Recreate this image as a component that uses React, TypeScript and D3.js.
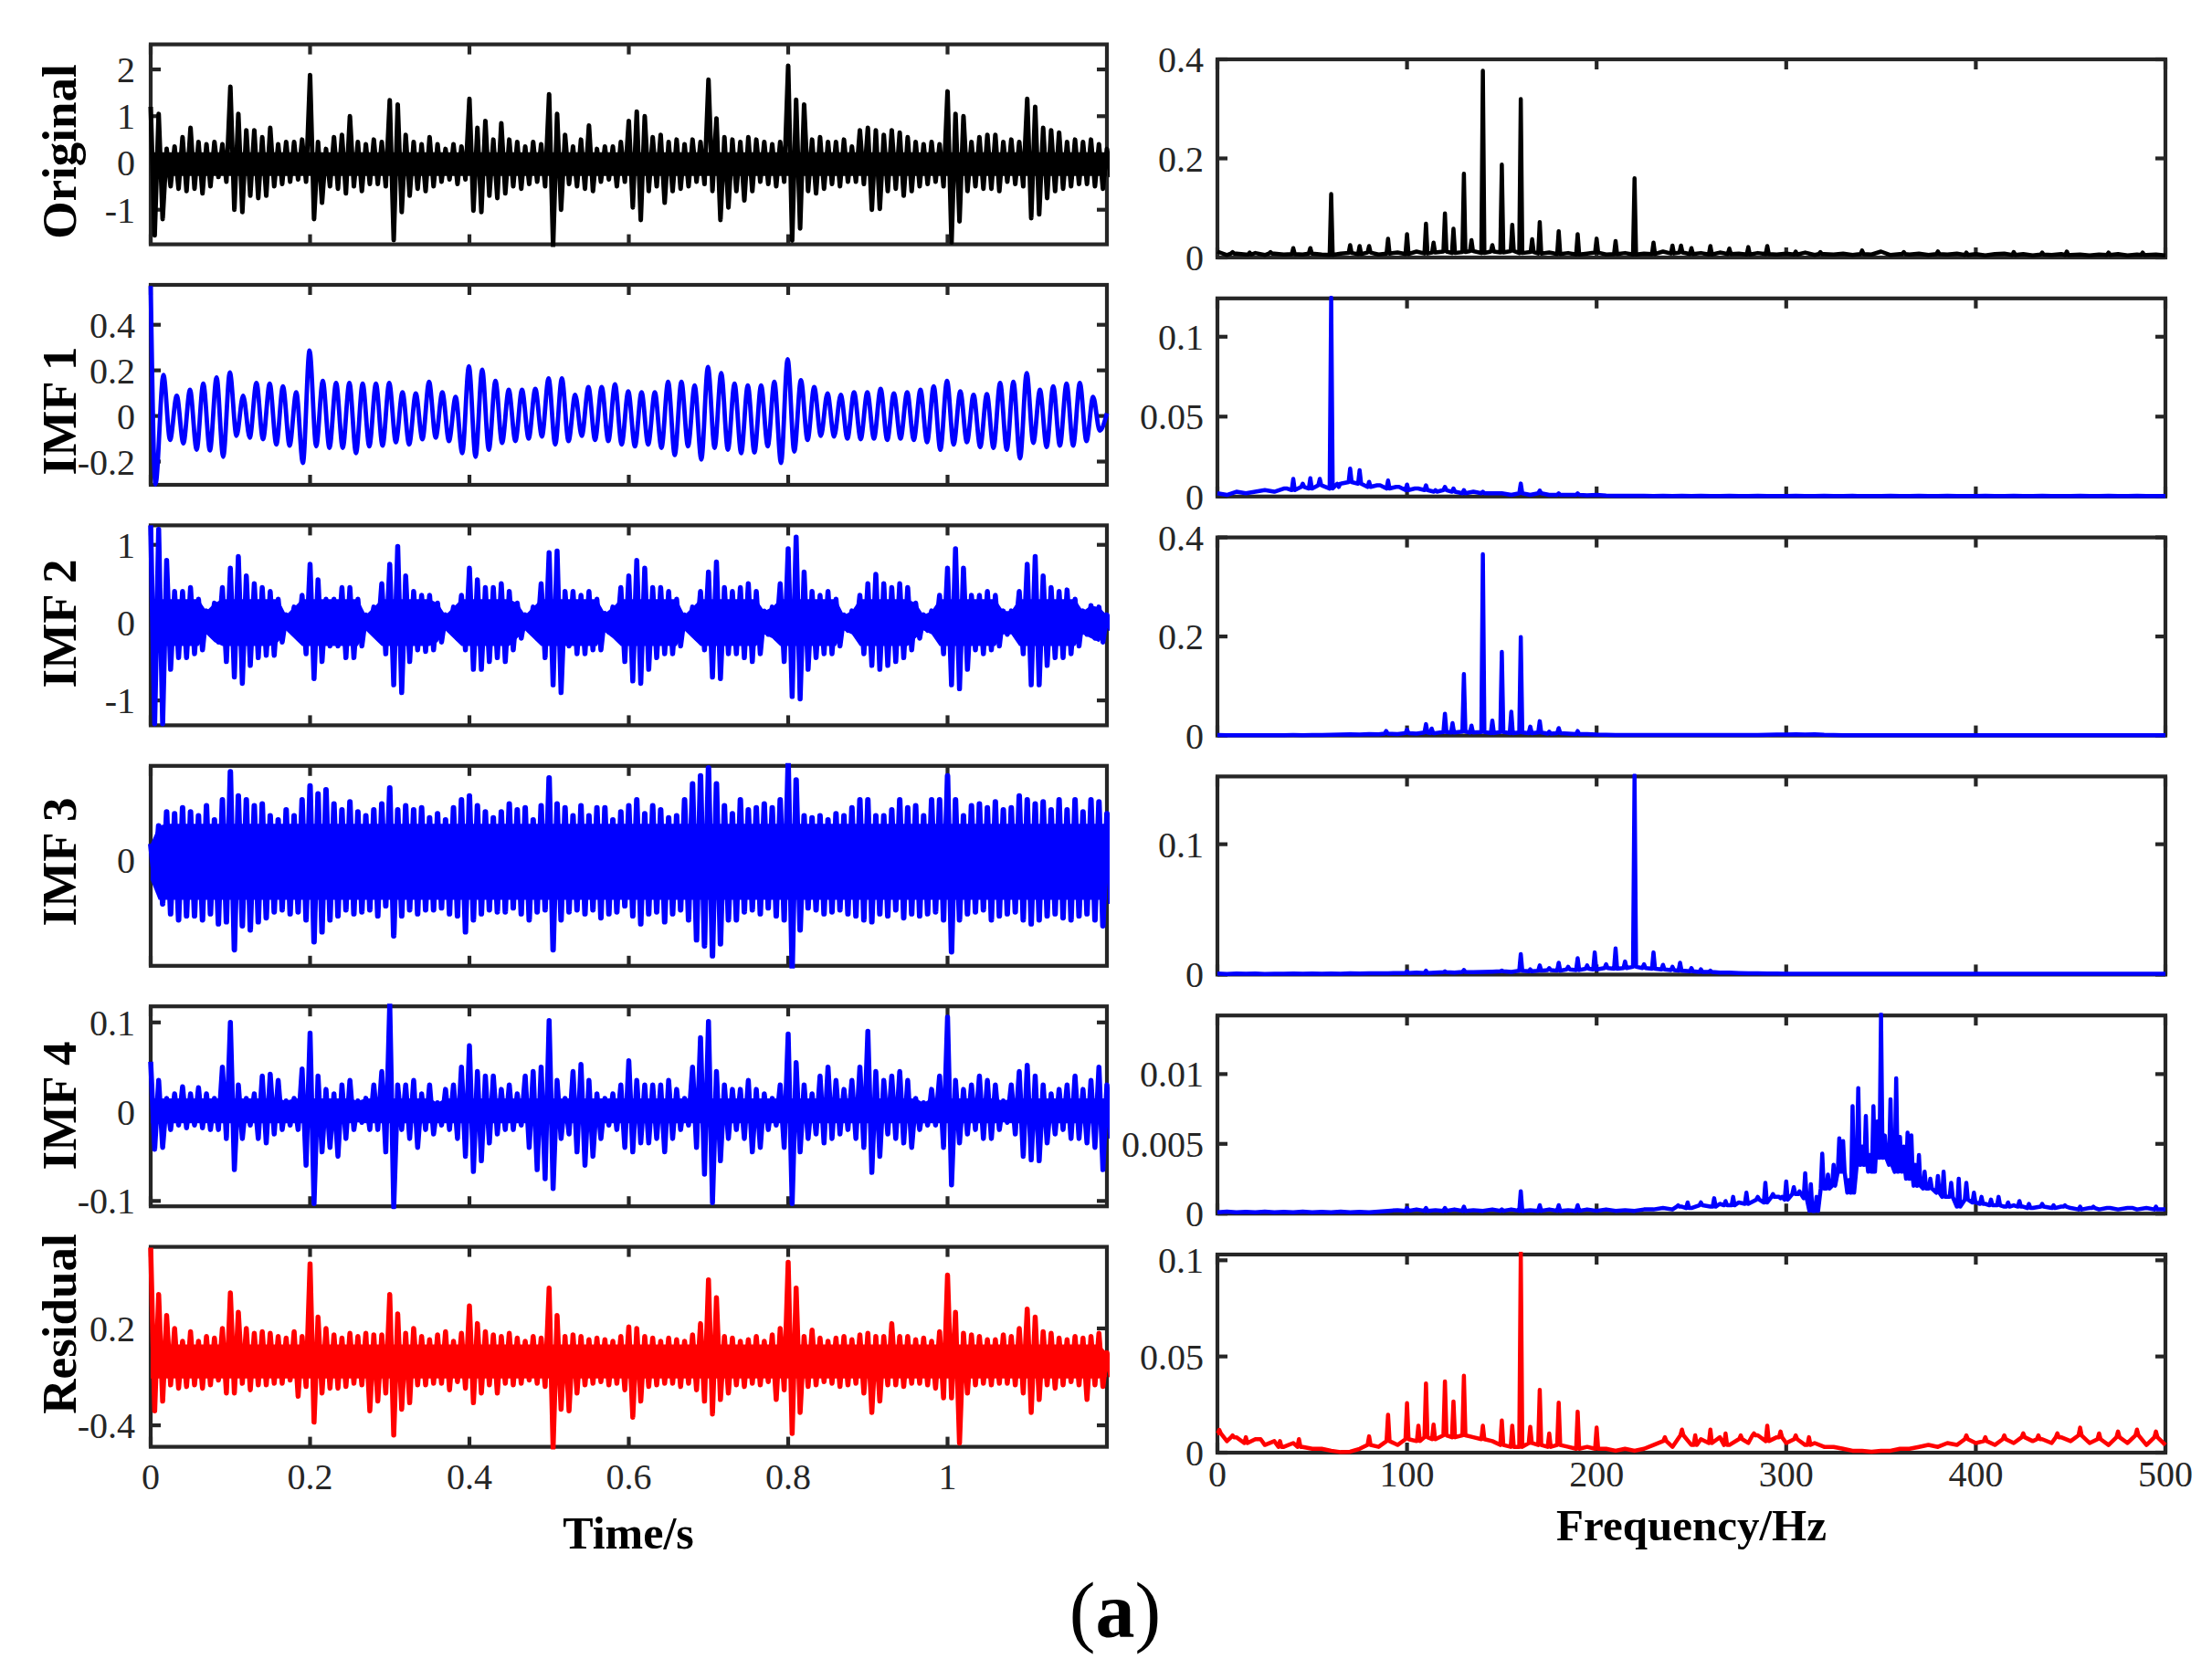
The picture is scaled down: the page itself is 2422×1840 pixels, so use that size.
import React, { useEffect, useRef } from "react";
import * as d3 from "d3";

// ---- data ----
const rowLabels = ["Original", "IMF 1", "IMF 2", "IMF 3", "IMF 4", "Residual"];
const timeTicks = [0, 0.2, 0.4, 0.6, 0.8, 1];
const freqTicks = [0, 100, 200, 300, 400, 500];
const timeDomain: [number, number] = [0, 1.2];
const freqDomain: [number, number] = [0, 500];
const timeYDomains: [number, number][] = [[-1.74, 2.536], [-0.302, 0.575], [-1.32, 1.25], [-0.53, 0.47], [-0.106, 0.118], [-0.533, 0.705]];
const timeYTicks = [[-1, 0, 1, 2], [-0.2, 0, 0.2, 0.4], [-1, 0, 1], [0], [-0.1, 0, 0.1], [-0.4, 0.2]];
const freqYDomains: [number, number][] = [[0, 0.4], [0, 0.124], [0, 0.4], [0, 0.152], [0, 0.0142], [0, 0.103]];
const freqYTicks = [[0, 0.2, 0.4], [0, 0.05, 0.1], [0, 0.2, 0.4], [0, 0.1], [0, 0.005, 0.01], [0, 0.05, 0.1]];
// solid inner band of each dense signal (bottom, top); IMF 1 has none
const coreBands: ([number, number] | null)[] = [[-0.28, 0.23], null, [-0.3, 0.3], [-0.2, 0.18], [-0.013, 0.015], [-0.11, 0.1]];

// time signals: upper / lower extremes every 0.01 s (0 .. 1.2 s)
const originalHi = [1.2,1.05,0.3,0.35,0.55,0.75,0.45,0.4,0.45,0.4,
  1.63,1.05,0.7,0.7,0.55,0.75,0.4,0.45,0.45,0.5,
  1.88,0.45,0.3,0.55,0.6,1.0,0.45,0.4,0.5,0.45,
  1.34,1.25,0.6,0.45,0.4,0.55,0.4,0.3,0.4,0.35,
  1.37,0.75,0.9,0.5,0.85,0.5,0.45,0.35,0.45,0.4,
  1.47,1.05,0.6,0.35,0.5,0.8,0.3,0.35,0.35,0.45,
  0.9,1.1,1.0,0.55,0.6,0.45,0.5,0.4,0.5,0.45,
  1.78,0.95,0.55,0.5,0.45,0.55,0.5,0.45,0.4,0.45,
  2.08,1.35,1.25,0.5,0.55,0.45,0.45,0.5,0.35,0.7,
  0.75,0.7,0.6,0.7,0.65,0.55,0.45,0.4,0.45,0.4,
  1.53,1.05,1.0,0.45,0.55,0.6,0.6,0.45,0.5,0.45,
  1.37,1.2,0.75,0.7,0.65,0.45,0.5,0.45,0.5,0.4,
  0.3];
const originalLo = [-1.55,-1.2,-0.5,-0.55,-0.6,-0.55,-0.65,-0.5,-0.3,-0.4,
  -1.0,-1.05,-0.7,-0.75,-0.7,-0.5,-0.45,-0.4,-0.35,-0.4,
  -1.2,-0.85,-0.5,-0.55,-0.65,-0.5,-0.6,-0.45,-0.45,-0.5,
  -1.65,-1.05,-0.7,-0.55,-0.6,-0.5,-0.4,-0.35,-0.45,-0.35,
  -1.02,-1.05,-0.7,-0.75,-0.65,-0.5,-0.55,-0.45,-0.4,-0.5,
  -1.78,-1.0,-0.45,-0.5,-0.55,-0.6,-0.4,-0.35,-0.5,-0.4,
  -0.95,-1.22,-0.6,-0.5,-0.85,-0.6,-0.55,-0.5,-0.4,-0.45,
  -0.6,-1.22,-0.95,-0.6,-0.8,-0.6,-0.4,-0.45,-0.5,-0.4,
  -1.66,-1.4,-0.6,-0.65,-0.55,-0.45,-0.5,-0.4,-0.4,-0.45,
  -1.0,-0.98,-0.6,-0.55,-0.7,-0.6,-0.5,-0.45,-0.4,-0.5,
  -1.7,-1.25,-0.6,-0.5,-0.55,-0.55,-0.6,-0.4,-0.45,-0.5,
  -1.18,-1.1,-0.75,-0.6,-0.55,-0.5,-0.45,-0.45,-0.5,-0.55,
  -0.3];

// IMF 1 is a clean ~60 Hz wave: start transient, then each crest / trough
const imf1Start = [0.57, -0.3];
const imf1Peaks = [0.18,0.089,0.115,0.142,0.169,0.191,0.089,0.145,0.142,0.13,
  0.104,0.287,0.154,0.145,0.145,0.142,0.142,0.145,0.104,0.099,
  0.15,0.104,0.084,0.218,0.203,0.154,0.115,0.115,0.119,0.165,
  0.165,0.093,0.127,0.127,0.139,0.108,0.104,0.104,0.15,0.15,
  0.134,0.215,0.188,0.142,0.134,0.134,0.15,0.249,0.157,0.127,
  0.099,0.093,0.104,0.104,0.119,0.099,0.104,0.115,0.13,0.154,
  0.108,0.093,0.096,0.145,0.15,0.188,0.115,0.13,0.142,0.145,
  0.084];
const imf1Troughs = [-0.105,-0.12,-0.148,-0.151,-0.179,-0.087,-0.095,-0.102,-0.125,-0.13,
  -0.206,-0.133,-0.14,-0.14,-0.163,-0.133,-0.13,-0.115,-0.125,-0.102,
  -0.095,-0.11,-0.163,-0.179,-0.148,-0.118,-0.11,-0.099,-0.09,-0.125,
  -0.11,-0.087,-0.105,-0.11,-0.125,-0.133,-0.125,-0.14,-0.171,-0.133,
  -0.191,-0.14,-0.148,-0.163,-0.16,-0.133,-0.206,-0.156,-0.105,-0.087,
  -0.09,-0.099,-0.102,-0.099,-0.105,-0.099,-0.105,-0.115,-0.148,-0.125,
  -0.115,-0.136,-0.14,-0.148,-0.186,-0.118,-0.136,-0.13,-0.13,-0.11,
  -0.064];
const imf1End = 0.012;

const imf2Hi = [1.25,1.2,0.8,0.4,0.4,0.45,0.3,0.15,0.25,0.45,
  0.7,0.85,0.6,0.5,0.45,0.4,0.3,0.1,0.2,0.35,
  0.75,0.55,0.3,0.3,0.45,0.45,0.3,0.1,0.2,0.5,
  0.75,0.98,0.6,0.4,0.35,0.35,0.25,0.1,0.2,0.35,
  0.7,0.55,0.45,0.45,0.5,0.4,0.25,0.1,0.2,0.5,
  0.9,0.92,0.4,0.4,0.35,0.4,0.3,0.12,0.2,0.45,
  0.6,0.8,0.7,0.45,0.45,0.4,0.3,0.1,0.2,0.4,
  0.65,0.78,0.45,0.4,0.45,0.5,0.4,0.15,0.2,0.5,
  0.95,1.1,0.65,0.4,0.35,0.4,0.3,0.1,0.15,0.35,
  0.5,0.62,0.5,0.45,0.5,0.45,0.25,0.1,0.15,0.35,
  0.7,0.95,0.7,0.35,0.35,0.4,0.35,0.15,0.15,0.4,
  0.75,0.85,0.6,0.45,0.4,0.42,0.3,0.15,0.22,0.2,
  0.1];
const imf2Lo = [-1.3,-1.3,-0.6,-0.45,-0.45,-0.4,-0.35,-0.15,-0.25,-0.5,
  -0.7,-0.78,-0.55,-0.45,-0.42,-0.42,-0.25,-0.1,-0.2,-0.4,
  -0.72,-0.5,-0.3,-0.3,-0.45,-0.45,-0.3,-0.1,-0.2,-0.4,
  -0.8,-0.9,-0.5,-0.35,-0.37,-0.35,-0.25,-0.1,-0.2,-0.35,
  -0.6,-0.6,-0.5,-0.45,-0.5,-0.35,-0.2,-0.1,-0.2,-0.45,
  -0.8,-0.9,-0.3,-0.4,-0.4,-0.35,-0.35,-0.12,-0.2,-0.5,
  -0.75,-0.78,-0.6,-0.45,-0.4,-0.4,-0.3,-0.1,-0.2,-0.35,
  -0.7,-0.72,-0.4,-0.4,-0.45,-0.5,-0.4,-0.15,-0.2,-0.5,
  -0.95,-0.98,-0.6,-0.45,-0.4,-0.4,-0.3,-0.1,-0.15,-0.4,
  -0.55,-0.6,-0.55,-0.5,-0.45,-0.35,-0.2,-0.1,-0.15,-0.4,
  -0.8,-0.85,-0.6,-0.35,-0.4,-0.35,-0.3,-0.15,-0.15,-0.4,
  -0.8,-0.8,-0.55,-0.45,-0.45,-0.4,-0.3,-0.15,-0.2,-0.25,
  -0.1];

const imf3Hi = [0.08,0.17,0.24,0.23,0.26,0.24,0.22,0.27,0.2,0.3,
  0.44,0.32,0.3,0.27,0.28,0.22,0.2,0.25,0.22,0.3,
  0.37,0.33,0.35,0.28,0.25,0.29,0.24,0.22,0.25,0.28,
  0.36,0.25,0.27,0.25,0.26,0.21,0.23,0.2,0.26,0.3,
  0.32,0.27,0.24,0.21,0.24,0.28,0.25,0.26,0.2,0.27,
  0.41,0.28,0.26,0.22,0.27,0.22,0.26,0.26,0.2,0.24,
  0.27,0.3,0.23,0.27,0.25,0.21,0.22,0.3,0.38,0.42,
  0.46,0.38,0.27,0.23,0.3,0.25,0.26,0.28,0.26,0.3,
  0.48,0.4,0.22,0.21,0.22,0.2,0.23,0.22,0.26,0.3,
  0.3,0.22,0.22,0.25,0.3,0.26,0.27,0.22,0.3,0.3,
  0.42,0.3,0.22,0.27,0.28,0.26,0.29,0.25,0.26,0.32,
  0.3,0.28,0.29,0.25,0.3,0.25,0.3,0.24,0.3,0.29,
  0.23];
const imf3Lo = [-0.1,-0.22,-0.27,-0.3,-0.28,-0.28,-0.3,-0.27,-0.32,-0.31,
  -0.45,-0.33,-0.35,-0.31,-0.29,-0.26,-0.25,-0.27,-0.26,-0.3,
  -0.41,-0.36,-0.3,-0.28,-0.25,-0.27,-0.26,-0.25,-0.28,-0.23,
  -0.38,-0.28,-0.25,-0.27,-0.25,-0.25,-0.24,-0.27,-0.28,-0.36,
  -0.3,-0.27,-0.25,-0.26,-0.26,-0.24,-0.27,-0.3,-0.26,-0.25,
  -0.45,-0.3,-0.26,-0.25,-0.27,-0.25,-0.29,-0.27,-0.26,-0.23,
  -0.28,-0.32,-0.27,-0.26,-0.31,-0.27,-0.25,-0.3,-0.4,-0.43,
  -0.48,-0.42,-0.3,-0.3,-0.26,-0.25,-0.27,-0.24,-0.28,-0.3,
  -0.54,-0.35,-0.24,-0.25,-0.27,-0.26,-0.25,-0.27,-0.28,-0.3,
  -0.31,-0.27,-0.28,-0.25,-0.29,-0.27,-0.28,-0.27,-0.26,-0.3,
  -0.46,-0.3,-0.27,-0.26,-0.25,-0.3,-0.28,-0.27,-0.26,-0.3,
  -0.32,-0.3,-0.28,-0.27,-0.29,-0.3,-0.28,-0.27,-0.3,-0.33,
  -0.22];

const imf4Hi = [0.056,0.035,0.015,0.02,0.028,0.02,0.027,0.02,0.015,0.05,
  0.1,0.03,0.015,0.02,0.04,0.042,0.035,0.012,0.015,0.048,
  0.088,0.04,0.025,0.02,0.03,0.035,0.012,0.015,0.03,0.045,
  0.121,0.03,0.03,0.035,0.02,0.03,0.01,0.025,0.03,0.05,
  0.074,0.045,0.04,0.04,0.025,0.03,0.02,0.04,0.045,0.05,
  0.102,0.035,0.015,0.045,0.053,0.035,0.02,0.015,0.02,0.03,
  0.057,0.035,0.03,0.03,0.03,0.035,0.025,0.015,0.05,0.083,
  0.101,0.045,0.03,0.025,0.025,0.035,0.025,0.02,0.015,0.03,
  0.087,0.055,0.03,0.02,0.04,0.05,0.035,0.025,0.035,0.05,
  0.09,0.045,0.035,0.04,0.045,0.035,0.015,0.01,0.025,0.04,
  0.106,0.035,0.025,0.03,0.04,0.035,0.03,0.012,0.03,0.045,
  0.052,0.04,0.03,0.02,0.025,0.03,0.04,0.025,0.035,0.05,
  0.03];
const imf4Lo = [-0.042,-0.04,-0.02,-0.015,-0.018,-0.015,-0.018,-0.02,-0.02,-0.03,
  -0.065,-0.03,-0.015,-0.03,-0.035,-0.025,-0.02,-0.015,-0.02,-0.06,
  -0.103,-0.045,-0.04,-0.05,-0.03,-0.02,-0.012,-0.02,-0.02,-0.045,
  -0.107,-0.02,-0.03,-0.04,-0.02,-0.025,-0.015,-0.02,-0.03,-0.05,
  -0.067,-0.055,-0.035,-0.025,-0.02,-0.02,-0.015,-0.04,-0.065,-0.075,
  -0.086,-0.03,-0.025,-0.045,-0.06,-0.05,-0.03,-0.015,-0.02,-0.04,
  -0.045,-0.035,-0.035,-0.03,-0.045,-0.03,-0.02,-0.015,-0.04,-0.07,
  -0.102,-0.055,-0.03,-0.02,-0.03,-0.045,-0.04,-0.02,-0.015,-0.04,
  -0.103,-0.045,-0.03,-0.025,-0.035,-0.03,-0.025,-0.02,-0.03,-0.04,
  -0.068,-0.05,-0.025,-0.03,-0.035,-0.04,-0.02,-0.015,-0.015,-0.04,
  -0.082,-0.035,-0.025,-0.02,-0.03,-0.03,-0.02,-0.012,-0.025,-0.05,
  -0.054,-0.055,-0.035,-0.025,-0.02,-0.03,-0.03,-0.035,-0.04,-0.065,
  -0.03];

const residualHi = [0.7,0.41,0.28,0.2,0.12,0.18,0.12,0.15,0.14,0.2,
  0.42,0.3,0.2,0.17,0.18,0.17,0.15,0.14,0.18,0.15,
  0.6,0.27,0.2,0.16,0.14,0.17,0.15,0.17,0.16,0.16,
  0.41,0.29,0.17,0.2,0.15,0.13,0.16,0.18,0.12,0.17,
  0.34,0.23,0.18,0.16,0.15,0.17,0.14,0.12,0.15,0.14,
  0.45,0.28,0.15,0.16,0.15,0.13,0.14,0.13,0.12,0.15,
  0.21,0.2,0.15,0.14,0.12,0.14,0.13,0.12,0.16,0.23,
  0.5,0.39,0.15,0.14,0.12,0.13,0.15,0.12,0.16,0.2,
  0.61,0.45,0.15,0.19,0.14,0.12,0.14,0.15,0.13,0.16,
  0.17,0.15,0.15,0.23,0.15,0.15,0.13,0.14,0.12,0.18,
  0.53,0.3,0.17,0.16,0.15,0.13,0.13,0.16,0.15,0.2,
  0.32,0.27,0.18,0.17,0.14,0.13,0.15,0.14,0.15,0.17,
  0.05];
const residualLo = [-0.31,-0.25,-0.15,-0.17,-0.16,-0.15,-0.17,-0.15,-0.12,-0.2,
  -0.2,-0.14,-0.18,-0.15,-0.15,-0.14,-0.14,-0.12,-0.22,-0.16,
  -0.38,-0.2,-0.17,-0.17,-0.16,-0.14,-0.15,-0.31,-0.25,-0.2,
  -0.46,-0.3,-0.26,-0.15,-0.15,-0.14,-0.14,-0.18,-0.13,-0.17,
  -0.26,-0.2,-0.15,-0.2,-0.14,-0.15,-0.14,-0.12,-0.14,-0.16,
  -0.54,-0.3,-0.31,-0.2,-0.15,-0.14,-0.13,-0.15,-0.14,-0.18,
  -0.35,-0.25,-0.16,-0.15,-0.14,-0.14,-0.16,-0.14,-0.18,-0.25,
  -0.33,-0.24,-0.2,-0.15,-0.16,-0.14,-0.15,-0.13,-0.24,-0.18,
  -0.45,-0.32,-0.16,-0.15,-0.13,-0.14,-0.16,-0.15,-0.14,-0.2,
  -0.32,-0.25,-0.15,-0.15,-0.16,-0.14,-0.14,-0.15,-0.17,-0.23,
  -0.23,-0.51,-0.2,-0.15,-0.14,-0.15,-0.14,-0.14,-0.15,-0.2,
  -0.32,-0.24,-0.15,-0.17,-0.15,-0.13,-0.15,-0.24,-0.15,-0.16,
  -0.1];

// spectra: noise floor every 5 Hz (0 .. 500 Hz) plus the spectral lines [Hz, amplitude]
const originalFloor = [0.012,0.005,0.008,0.006,0.009,0.005,0.008,0.006,0.007,0.006,
  0.008,0.006,0.005,0.008,0.009,0.007,0.01,0.006,0.008,0.01,
  0.007,0.012,0.008,0.01,0.012,0.009,0.011,0.013,0.009,0.012,
  0.01,0.013,0.009,0.011,0.008,0.01,0.007,0.009,0.006,0.008,
  0.01,0.006,0.007,0.009,0.006,0.008,0.007,0.012,0.008,0.01,
  0.007,0.009,0.006,0.01,0.007,0.008,0.006,0.009,0.007,0.006,
  0.008,0.006,0.01,0.005,0.007,0.006,0.008,0.005,0.007,0.006,
  0.012,0.005,0.007,0.006,0.008,0.005,0.007,0.006,0.008,0.005,
  0.007,0.004,0.007,0.008,0.005,0.007,0.004,0.006,0.005,0.007,
  0.005,0.006,0.004,0.006,0.005,0.007,0.004,0.006,0.005,0.006,
  0.004];
const originalPeaks = [[8,0.011],[17,0.01],[28,0.011],[40,0.019],[49,0.019],[60,0.128],[70,0.025],[75,0.023],[80,0.023],[90,0.038],[100,0.047],
  [110,0.068],[114,0.03],[120,0.089],[124.5,0.058],[130,0.169],[134,0.035],[140,0.377],[145,0.025],
  [150,0.1875],[155.5,0.066],[160,0.32],[166,0.037],[170,0.0715],[180,0.053],[190,0.047],[200,0.038],
  [210,0.033],[220,0.16],[230,0.03],[240,0.024],[244.5,0.024],[250,0.019],[260,0.023],[270,0.018],
  [280,0.021],[290,0.023],[305,0.012],[318,0.011],[340,0.014],[362,0.011],[380,0.012],[395,0.01],[420,0.011],[435,0.01],[448,0.012],[470,0.01],[488,0.01]];

const imf1Floor = [0.002,0.001,0.003,0.002,0.003,0.004,0.003,0.005,0.004,0.006,
  0.005,0.007,0.005,0.008,0.009,0.008,0.006,0.007,0.005,0.006,
  0.004,0.005,0.004,0.003,0.004,0.003,0.002,0.003,0.002,0.002,
  0.002,0.001,0.002,0.001,0.002,0.001,0.001,0.001,0.001,0.0008,
  0.001,0.0006,0.0005,0.0004,0.0005,0.0004,0.0003,0.0004,0.0003,0.0004,
  0.0003,0.0004,0.0003,0.0003,0.0004,0.0003,0.0003,0.0004,0.0003,0.0003,
  0.0003,0.0004,0.0003,0.0003,0.0004,0.0003,0.0003,0.0004,0.0003,0.0003,
  0.0003,0.0004,0.0003,0.0003,0.0004,0.0003,0.0003,0.0004,0.0003,0.0003,
  0.0003,0.0004,0.0003,0.0003,0.0004,0.0003,0.0003,0.0004,0.0003,0.0003,
  0.0003,0.0004,0.0003,0.0003,0.0004,0.0003,0.0003,0.0004,0.0003,0.0003,
  0.0003];
const imf1Lines = [[36,0.005],[40,0.011],[45,0.008],[49,0.0114],[54,0.011],[60,0.1245],[64,0.006],[70,0.0175],
  [75,0.0164],[80,0.0092],[85,0.007],[90,0.01],[95,0.006],[100,0.0075],[105,0.005],[110,0.007],
  [115,0.004],[120,0.006],[124.5,0.005],[130,0.004],[140,0.003],[160,0.0081],[170,0.0037],[180,0.002],[190,0.002]];

const imf2Floor = [0.001,0.0005,0.0008,0.0005,0.0007,0.0006,0.0008,0.0006,0.0009,0.0008,
  0.001,0.0012,0.0015,0.002,0.0025,0.002,0.003,0.0025,0.004,0.003,
  0.005,0.004,0.006,0.005,0.007,0.006,0.008,0.006,0.007,0.005,
  0.007,0.005,0.006,0.005,0.006,0.004,0.005,0.004,0.003,0.003,
  0.002,0.0015,0.0012,0.001,0.001,0.0012,0.001,0.0012,0.001,0.001,
  0.001,0.0012,0.001,0.001,0.0012,0.001,0.001,0.0012,0.0015,0.0018,
  0.002,0.0025,0.002,0.0025,0.0015,0.001,0.0008,0.0008,0.0008,0.0008,
  0.0008,0.0008,0.0008,0.0008,0.0008,0.0008,0.0008,0.0008,0.0008,0.0008,
  0.0008,0.0008,0.0008,0.0008,0.0008,0.0008,0.0008,0.0008,0.0008,0.0008,
  0.0008,0.0008,0.0008,0.0008,0.0008,0.0008,0.0008,0.0008,0.0008,0.0008,
  0.0008];
const imf2Lines = [[89,0.009],[100,0.012],[110,0.023],[113,0.014],[120,0.044],[124,0.025],[130,0.124],[134,0.02],
  [140,0.366],[145,0.03],[150,0.169],[155,0.048],[160,0.199],[165,0.018],[170,0.029],[175,0.008],[180,0.015],[190,0.009]];

const imf3Floor = [0.0008,0.0005,0.0008,0.0006,0.0008,0.0005,0.0007,0.0006,0.0008,0.0006,
  0.0008,0.0006,0.0008,0.0007,0.0009,0.0008,0.001,0.0009,0.001,0.0012,
  0.0012,0.0015,0.0012,0.0015,0.0018,0.0015,0.002,0.0018,0.002,0.0022,
  0.0025,0.002,0.003,0.0025,0.003,0.0035,0.003,0.004,0.0035,0.0045,
  0.004,0.005,0.0045,0.005,0.006,0.005,0.0045,0.004,0.0035,0.003,
  0.0025,0.002,0.002,0.0015,0.0015,0.0012,0.001,0.001,0.0008,0.0008,
  0.0006,0.0007,0.0006,0.0006,0.0007,0.0006,0.0006,0.0007,0.0006,0.0006,
  0.0006,0.0007,0.0006,0.0006,0.0007,0.0006,0.0006,0.0007,0.0006,0.0006,
  0.0006,0.0007,0.0006,0.0006,0.0007,0.0006,0.0006,0.0007,0.0006,0.0006,
  0.0006,0.0007,0.0006,0.0006,0.0007,0.0006,0.0006,0.0007,0.0006,0.0006,
  0.0006];
const imf3Lines = [[100,0.0025],[110,0.003],[120,0.0025],[130,0.0035],[150,0.003],[160,0.0157],[165,0.004],[170,0.007],
  [175,0.005],[180,0.009],[185,0.006],[190,0.0126],[195,0.007],[199,0.017],[205,0.008],[210,0.02],
  [215,0.01],[220,0.153],[225,0.008],[230,0.017],[235,0.0075],[240,0.006],[244,0.009],[250,0.005],[255,0.004],[260,0.003]];

const imf4Floor = [0.0001,0.00015,0.0001,0.00012,0.0001,0.00015,0.0001,0.00012,0.0001,0.00015,
  0.0001,0.00012,0.0001,0.00015,0.0001,0.00012,0.0001,0.00015,0.0002,0.00025,
  0.0002,0.0003,0.0002,0.00025,0.0002,0.0003,0.0002,0.00025,0.0002,0.0003,
  0.0002,0.0003,0.0002,0.00025,0.0002,0.0003,0.0002,0.00025,0.0002,0.0003,
  0.0002,0.0003,0.0002,0.00025,0.0002,0.0003,0.0003,0.0004,0.0003,0.0005,
  0.0004,0.0006,0.0005,0.0007,0.0006,0.0008,0.0007,0.001,0.0008,0.0012,
  0.001,0.0014,0.0011,0.0002,0.0018,0.002,0.003,0.0015,0.0035,0.003,
  0.004,0.0035,0.003,0.0025,0.002,0.0018,0.0015,0.0012,0.0005,0.001,
  0.0008,0.0007,0.0006,0.0005,0.0006,0.0005,0.0004,0.0005,0.0004,0.0005,
  0.0004,0.0003,0.0004,0.0003,0.0004,0.0003,0.0004,0.0003,0.0004,0.0003,
  0.0003];
const imf4Lines = [[100,0.0004],[110,0.0004],[120,0.0004],[130,0.0005],[150,0.0003],[160,0.0016],[170,0.0006],[180,0.0006],
  [190,0.0006],[243,0.0006],[248,0.0008],[255,0.0008],[262,0.0011],[268,0.0009],[272,0.0012],[279,0.0015],
  [285,0.0012],[289,0.0022],[293,0.0014],[297,0.0011],[300,0.0023],[304,0.0019],[307,0.0016],[310,0.0029],
  [313,0.0021],[316,0.0012],[319,0.0043],[322,0.0028],[325,0.0035],[328,0.0054],[330,0.0052],[333,0.0024],
  [335,0.0077],[338,0.009],[340,0.0048],[342,0.007],[344,0.0042],[346,0.0077],[348,0.0066],[350,0.0143],
  [352,0.0056],[355,0.0082],[358,0.0097],[360,0.0055],[362,0.0048],[364,0.0058],[366,0.0056],[368,0.0035],
  [370,0.0042],[373,0.003],[376,0.0025],[380,0.0027],[383,0.003],[387,0.0022],[391,0.0025],[395,0.0022],
  [399,0.0015],[403,0.0012],[408,0.001],[412,0.0012],[417,0.0008],[423,0.0009],[428,0.0007],[435,0.0007],
  [441,0.0006],[447,0.0006],[455,0.0005],[462,0.0005],[470,0.0004],[482,0.0004],[495,0.0005]];

const residualFloor = [0.01,0.006,0.008,0.005,0.007,0.004,0.006,0.003,0.005,0.003,
  0.002,0.002,0.001,0.0003,0.0005,0.002,0.004,0.003,0.006,0.004,
  0.007,0.006,0.008,0.007,0.009,0.008,0.009,0.008,0.007,0.006,
  0.004,0.003,0.003,0.005,0.004,0.003,0.004,0.003,0.002,0.003,
  0.002,0.002,0.001,0.002,0.001,0.002,0.004,0.006,0.003,0.009,
  0.004,0.007,0.005,0.008,0.004,0.007,0.005,0.009,0.006,0.008,
  0.005,0.007,0.004,0.005,0.003,0.003,0.002,0.001,0.001,0.0005,
  0.001,0.001,0.002,0.002,0.003,0.004,0.003,0.005,0.004,0.007,
  0.005,0.006,0.004,0.007,0.005,0.008,0.006,0.007,0.005,0.008,
  0.006,0.009,0.005,0.007,0.004,0.008,0.005,0.009,0.004,0.008,
  0.004];
const residualLines = [[1,0.0118],[8,0.009],[15,0.008],[22,0.007],[33,0.006],[43,0.007],[80,0.0085],[90,0.0197],
  [100,0.0257],[106,0.014],[110,0.036],[114,0.0146],[120,0.037],[124.5,0.0266],[130,0.04],[140,0.014],
  [150,0.0167],[155.5,0.014],[160,0.104],[165,0.0134],[170,0.0326],[175,0.01],[180,0.026],[190,0.0213],
  [200,0.013],[236,0.008],[245,0.012],[252,0.009],[260,0.012],[268,0.01],[276,0.009],[283,0.01],
  [290,0.014],[297,0.011],[305,0.009],[312,0.008],[395,0.009],[405,0.008],[415,0.009],[425,0.01],
  [433,0.009],[443,0.01],[455,0.013],[465,0.01],[475,0.011],[485,0.012],[495,0.011]];

// ---- layout ----
const W = 2422;
const H = 1840;
const leftX: [number, number] = [165, 1212];
const rightX: [number, number] = [1333, 2371];
const leftTop = (k: number) => 48.6 + 263.4 * k;
const rightTop = (k: number) => 65 + 261.8 * k;
const leftH = 219;
const rightH = 217;
const labelCenters = [166, 450, 683, 944, 1211, 1450];
const tickFont = "'Liberation Serif', 'Times New Roman', serif";
const axisColor = "#262626";

type Pt = [number, number];
type Band = { t: number; lo: number; hi: number };

const dt = 0.01;

function envelopePoints(hi: number[], lo: number[]): Pt[] {
  const pts: Pt[] = [];
  hi.forEach((v, i) => {
    pts.push([i * dt, v]);
    pts.push([i * dt + dt / 2, lo[i]]);
  });
  return pts;
}

function coreBand(hi: number[], lo: number[], band: [number, number] | null): Band[] {
  if (!band) return [];
  return hi.map((v, i) => ({ t: i * dt, hi: Math.min(v, band[1]), lo: Math.max(lo[i], band[0]) }));
}

function imf1Points(): Pt[] {
  const pts: Pt[] = [[0, imf1Start[0]], [0.006, imf1Start[1]]];
  imf1Peaks.forEach((p, k) => {
    pts.push([0.016 + k / 60, p]);
    if (k < imf1Troughs.length) pts.push([0.016 + (k + 0.5) / 60, imf1Troughs[k]]);
  });
  pts.push([1.2, imf1End]);
  return pts;
}

function spectrumPoints(floor: number[], lines: number[][]): Pt[] {
  const pts: Pt[] = [];
  floor.forEach((v, j) => {
    const f = j * 5;
    if (!lines.some(([lf]) => Math.abs(lf - f) < 0.9)) pts.push([f, v]);
  });
  lines.forEach(([f, a]) => {
    const base = floor[Math.min(floor.length - 1, Math.round(f / 5))];
    pts.push([Math.max(0, f - 0.8), base], [f, a], [f + 0.8, base]);
  });
  pts.sort((a, b) => a[0] - b[0]);
  return pts;
}

export default function App() {
  const ref = useRef<SVGSVGElement>(null);

  useEffect(() => {
    const svg = d3.select(ref.current);
    svg.selectAll("*").remove();
    svg.append("rect").attr("width", W).attr("height", H).attr("fill", "#fff");

    const envs: [number[], number[]][] = [
      [originalHi, originalLo], [[], []], [imf2Hi, imf2Lo], [imf3Hi, imf3Lo], [imf4Hi, imf4Lo], [residualHi, residualLo],
    ];
    const colors = ["#000000", "#0000ff", "#0000ff", "#0000ff", "#0000ff", "#ff0000"];
    const widths = [5, 4.8, 5.5, 6, 5.5, 5.5];
    const spectra: Pt[][] = [
      spectrumPoints(originalFloor, originalPeaks),
      spectrumPoints(imf1Floor, imf1Lines),
      spectrumPoints(imf2Floor, imf2Lines),
      spectrumPoints(imf3Floor, imf3Lines),
      spectrumPoints(imf4Floor, imf4Lines),
      spectrumPoints(residualFloor, residualLines),
    ];

    const drawAxes = (
      id: string,
      x: d3.ScaleLinear<number, number>,
      y: d3.ScaleLinear<number, number>,
      xTicks: number[],
      yTicks: number[],
      xLabels: boolean,
      xLabelDy: number,
      yLabelGap: number
    ) => {
      const [x0, x1] = x.range();
      const [y1, y0] = y.range();
      const g = svg.append("g");
      const tl = 11;

      g.append("clipPath").attr("id", id)
        .append("rect").attr("x", x0 - 3).attr("y", y0 - 3)
        .attr("width", x1 - x0 + 6).attr("height", y1 - y0 + 6);

      const ax = g.append("g").attr("stroke", axisColor).attr("stroke-width", 4.2).attr("fill", "none");
      ax.append("rect").attr("x", x0).attr("y", y0).attr("width", x1 - x0).attr("height", y1 - y0);
      xTicks.forEach((t) => {
        const px = x(t);
        ax.append("line").attr("x1", px).attr("x2", px).attr("y1", y1).attr("y2", y1 - tl);
        ax.append("line").attr("x1", px).attr("x2", px).attr("y1", y0).attr("y2", y0 + tl);
      });
      yTicks.forEach((t) => {
        const py = y(t);
        ax.append("line").attr("x1", x0).attr("x2", x0 + tl).attr("y1", py).attr("y2", py);
        ax.append("line").attr("x1", x1).attr("x2", x1 - tl).attr("y1", py).attr("y2", py);
      });

      yTicks.forEach((t) => {
        g.append("text").attr("x", x0 - yLabelGap).attr("y", y(t)).attr("dy", "0.35em")
          .attr("text-anchor", "end").attr("font-family", tickFont).attr("font-size", 40)
          .attr("fill", axisColor).text(String(t));
      });
      if (xLabels) {
        xTicks.forEach((t) => {
          g.append("text").attr("x", x(t)).attr("y", y1 + xLabelDy)
            .attr("text-anchor", "middle").attr("font-family", tickFont).attr("font-size", 40)
            .attr("fill", axisColor).text(String(t));
        });
      }
      return g.append("g").attr("clip-path", `url(#${id})`);
    };

    rowLabels.forEach((label, k) => {
      const color = colors[k];

      // time domain
      const xt = d3.scaleLinear().domain(timeDomain).range(leftX);
      const yt = d3.scaleLinear().domain(timeYDomains[k]).range([leftTop(k) + leftH, leftTop(k)]);
      const gt = drawAxes(`clipT${k}`, xt, yt, timeTicks, timeYTicks[k], k === 5, 46, 17);
      const [hi, lo] = envs[k];
      const band = coreBand(hi, lo, coreBands[k]);
      if (band.length) {
        const area = d3.area<Band>().x((d) => xt(d.t)).y0((d) => yt(d.lo)).y1((d) => yt(d.hi));
        gt.append("path").attr("d", area(band) || "").attr("fill", color);
      }
      const pts = k === 1 ? imf1Points() : envelopePoints(hi, lo);
      const tLine = d3.line<Pt>().x((d) => xt(d[0])).y((d) => yt(d[1]))
        .curve(k === 1 ? d3.curveMonotoneX : d3.curveLinear);
      gt.append("path").attr("d", tLine(pts) || "")
        .attr("fill", "none").attr("stroke", color).attr("stroke-width", widths[k])
        .attr("stroke-linejoin", "round");

      // frequency domain
      const xf = d3.scaleLinear().domain(freqDomain).range(rightX);
      const yf = d3.scaleLinear().domain(freqYDomains[k]).range([rightTop(k) + rightH, rightTop(k)]);
      const gf = drawAxes(`clipF${k}`, xf, yf, freqTicks, freqYTicks[k], k === 5, 37, 15);
      const fLine = d3.line<Pt>().x((d) => xf(d[0])).y((d) => yf(d[1]));
      gf.append("path").attr("d", fLine(spectra[k]) || "")
        .attr("fill", "none").attr("stroke", color).attr("stroke-width", 4.5)
        .attr("stroke-linejoin", "round");

      svg.append("text")
        .attr("transform", `translate(83,${labelCenters[k]}) rotate(-90)`)
        .attr("text-anchor", "middle").attr("font-family", tickFont)
        .attr("font-weight", "bold").attr("font-size", 53).attr("fill", "#000")
        .text(label);
    });

    svg.append("text").attr("x", 688).attr("y", 1696).attr("text-anchor", "middle")
      .attr("font-family", tickFont).attr("font-weight", "bold").attr("font-size", 50)
      .attr("fill", "#000").text("Time/s");
    svg.append("text").attr("x", 1852).attr("y", 1687).attr("text-anchor", "middle")
      .attr("font-family", tickFont).attr("font-weight", "bold").attr("font-size", 49)
      .attr("fill", "#000").text("Frequency/Hz");

    const cap = svg.append("text").attr("x", 1221).attr("y", 1793).attr("text-anchor", "middle")
      .attr("font-family", tickFont).attr("font-size", 86).attr("fill", "#000");
    cap.append("tspan").text("(");
    cap.append("tspan").attr("font-weight", "bold").text("a");
    cap.append("tspan").text(")");
  }, []);

  return (
    <svg
      ref={ref}
      width={W}
      height={H}
      style={{ position: "absolute", left: 0, top: 0, display: "block" }}
    />
  );
}
